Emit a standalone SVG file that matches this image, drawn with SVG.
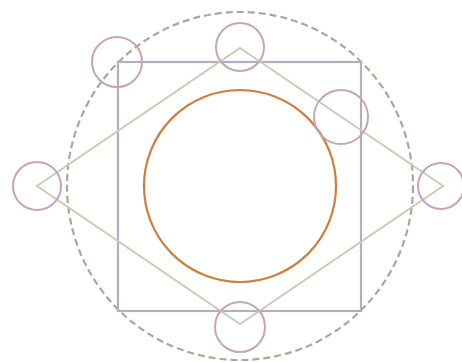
<svg xmlns="http://www.w3.org/2000/svg" width="462" height="362" viewBox="0 0 462 362">
<style>
.sq{fill:none;stroke:#b3acc3;stroke-width:2.2}
.dm{fill:none;stroke:#c3d1b3;stroke-width:2}
.sc{fill:none;stroke:#c9a4b4;stroke-width:2}
.oc{fill:none;stroke:#cf7f3a;stroke-width:2.2}
.dc{fill:none;stroke:#a6a996;stroke-width:2.2;stroke-dasharray:7 4}
</style>
<rect width="462" height="362" fill="#ffffff"/>
<g id="outer-circle"><ellipse class="dc" cx="240" cy="186" rx="173" ry="174"/></g>
<g id="square"><rect class="sq" x="118" y="62" width="243" height="249"/></g>
<g id="diamond"><polygon class="dm" points="240,48 443,186 240,324 37,186"/></g>
<g id="inner-circle"><circle class="oc" cx="240" cy="186" r="96"/></g>
<g id="c-topleft"><circle class="sc" cx="117" cy="62" r="25"/></g>
<g id="c-top"><circle class="sc" cx="240" cy="47" r="24"/></g>
<g id="c-right-upper"><circle class="sc" cx="341" cy="117" r="27"/></g>
<g id="c-left"><circle class="sc" cx="37" cy="186" r="24"/></g>
<g id="c-right"><circle class="sc" cx="441" cy="186" r="23"/></g>
<g id="c-bottom"><circle class="sc" cx="240" cy="327" r="25"/></g>
</svg>
